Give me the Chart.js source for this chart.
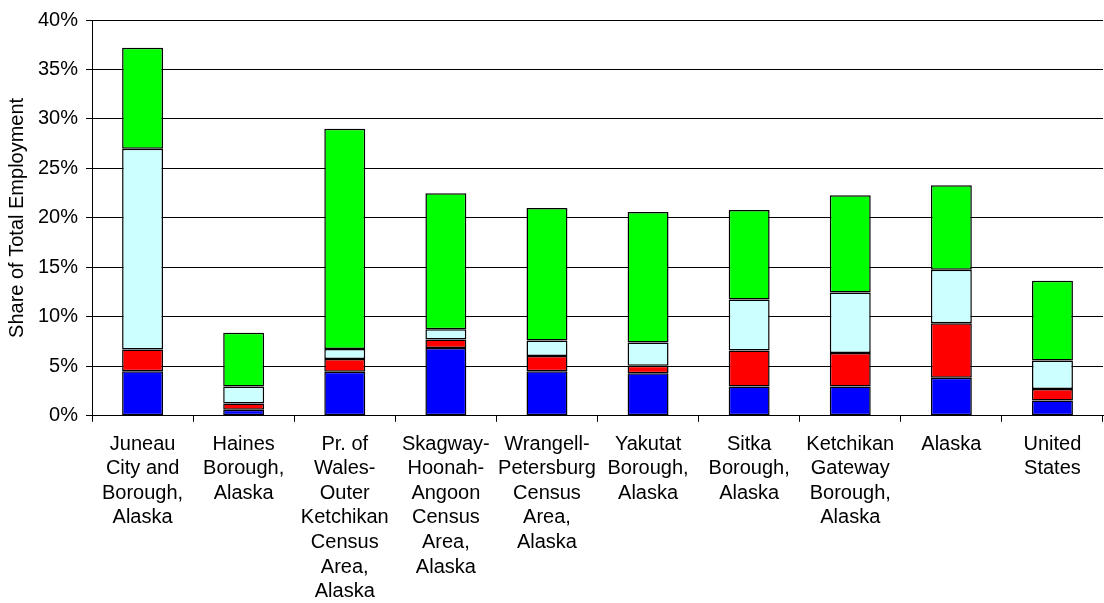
<!DOCTYPE html>
<html>
<head>
<meta charset="utf-8">
<script src="https://cdn.jsdelivr.net/npm/chart.js"></script>
<style>
  body { margin: 0; background: #fff; }
  #wrap { width: 1104px; height: 603px; }
</style>
</head>
<body>
<div id="wrap"><canvas id="shareChart" width="1104" height="603"></canvas></div>
<script>
// area names, already split into the lines shown under each bar
const areas = [
    ['Juneau', 'City and', 'Borough,', 'Alaska'],
    ['Haines', 'Borough,', 'Alaska'],
    ['Pr. of', 'Wales-', 'Outer', 'Ketchikan', 'Census', 'Area,', 'Alaska'],
    ['Skagway-', 'Hoonah-', 'Angoon', 'Census', 'Area,', 'Alaska'],
    ['Wrangell-', 'Petersburg', 'Census', 'Area,', 'Alaska'],
    ['Yakutat', 'Borough,', 'Alaska'],
    ['Sitka', 'Borough,', 'Alaska'],
    ['Ketchikan', 'Gateway', 'Borough,', 'Alaska'],
    ['Alaska'],
    ['United', 'States']
];

// share of total employment (%), one array per stacked segment, bottom to top
const blueShare  = [4.5, 0.6, 4.45, 6.85, 4.5, 4.3, 2.95, 2.95, 3.85, 1.55];
const redShare   = [2.2, 0.65, 1.3, 0.85, 1.55, 0.75, 3.65, 3.4, 5.5, 1.15];
const cyanShare  = [20.3, 1.7, 1.0, 1.05, 1.55, 2.35, 5.15, 6.1, 5.4, 2.9];
const greenShare = [10.2, 5.45, 22.25, 13.75, 13.4, 13.2, 9.05, 9.85, 8.55, 8.05];

const yTicks = { min: 0, max: 40, step: 5 };

const font = { family: '"Liberation Sans", Arial, sans-serif', size: 20 };

function segment(label, values, color) {
    return {
        label: label,
        data: values,
        backgroundColor: color,
        borderColor: '#000',
        borderWidth: 1.5,
        borderSkipped: false,
        categoryPercentage: 1,
        barPercentage: 0.405
    };
}

const ctx = document.getElementById('shareChart').getContext('2d');
const shareChart = new Chart(ctx, {
    type: 'bar',
    data: {
        labels: areas,
        datasets: [
            segment('Segment 1', blueShare, '#0000ff'),
            segment('Segment 2', redShare, '#ff0000'),
            segment('Segment 3', cyanShare, '#ccffff'),
            segment('Segment 4', greenShare, '#00ff00')
        ]
    },
    options: {
        responsive: false,
        animation: false,
        layout: { padding: { top: 3, right: 1, left: 5, bottom: -11 } },
        plugins: {
            legend: { display: false },
            tooltip: { enabled: false }
        },
        scales: {
            x: {
                stacked: true,
                grid: {
                    display: true,
                    drawOnChartArea: false,
                    offset: true,
                    color: '#000',
                    tickLength: 6
                },
                border: { color: '#000', width: 1 },
                ticks: {
                    color: '#000',
                    font: { ...font, lineHeight: 1.23 },
                    maxRotation: 0,
                    autoSkip: false,
                    padding: 10
                }
            },
            y: {
                stacked: true,
                min: yTicks.min,
                max: yTicks.max,
                grid: { color: '#000', lineWidth: 1, tickLength: 6 },
                border: { color: '#000', width: 1 },
                ticks: {
                    stepSize: yTicks.step,
                    color: '#000',
                    font: font,
                    padding: 8,
                    callback: (v) => v + '%'
                },
                title: {
                    display: true,
                    text: 'Share of Total Employment',
                    color: '#000',
                    font: font,
                    padding: { top: 0, bottom: 1 }
                }
            }
        }
    }
});
</script>
</body>
</html>
